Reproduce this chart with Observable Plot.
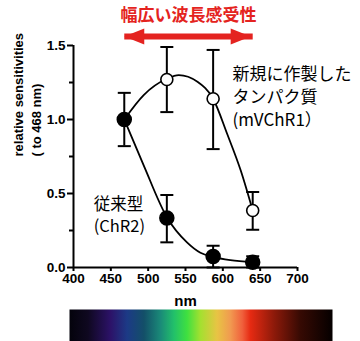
<!DOCTYPE html>
<html>
<head>
<meta charset="utf-8">
<script src="https://cdn.jsdelivr.net/npm/d3@7"></script>
<script src="https://cdn.jsdelivr.net/npm/@observablehq/plot@0.6"></script>
<style>
  html, body { margin: 0; padding: 0; background: #fff; }
  #chart svg { display: block; }
</style>
</head>
<body>
<div id="chart"></div>
<script>
// ---- data ----
const wavelengths = [468, 525, 587, 640];            // ChR2 measured wavelengths (nm)
const chr2Values  = [1.0, 0.335, 0.074, 0.036];
const chr2Low     = [0.82, 0.17, 0.0, 0.0];
const chr2High    = [1.18, 0.49, 0.147, 0.076];

const mvWavelengths = [525, 587, 640];                // mVChR1 (open circles)
const mvValues      = [1.27, 1.14, 0.385];
const mvLow         = [1.05, 0.80, 0.255];
const mvHigh        = [1.49, 1.47, 0.51];

// fitted curves
const chr2FitNm  = [468, 494, 525, 552, 570, 587, 610, 640];
const chr2FitVal = [1.0, 0.69, 0.34, 0.17, 0.10, 0.072, 0.05, 0.036];
const mvFitNm    = [468, 494, 525, 541, 566, 587, 606, 624, 640];
const mvFitVal   = [1.0, 1.165, 1.275, 1.30, 1.255, 1.14, 0.90, 0.655, 0.385];

const xTicks = [400, 450, 500, 550, 600, 650, 700];
const yTicks = [0, 0.5, 1.0, 1.5];
const yMinorTicks = [0.25, 0.75, 1.25];

const topTitle = "幅広い波長感受性";
const arrowSpan = [468, 640];
const mvLabel = ["新規に作製した", "タンパク質", "(mVChR1）"];
const chr2Label = ["従来型", "(ChR2)"];
const yTitle = ["relative sensitivities", "( to 468 nm)"];
const xTitle = "nm";

const spectrumOffsets = [0, 0.07, 0.156, 0.219, 0.283, 0.346, 0.397, 0.447, 0.498, 0.561, 0.612, 0.657, 0.688, 0.777, 0.878, 1];
const spectrumColors  = ["#04030c", "#0f0820", "#2c1268", "#1c3a86", "#134f68", "#1a8a78", "#22c06a", "#3fe040", "#a4e030", "#e8c444", "#f19a50", "#f0603c", "#e62a12", "#8e1a0a", "#360a03", "#050000"];

// ---- tables ----
const chr2 = wavelengths.map((x, i) => ({x, v: chr2Values[i], lo: chr2Low[i], hi: chr2High[i]}));
const mv = mvWavelengths.map((x, i) => ({x, v: mvValues[i], lo: mvLow[i], hi: mvHigh[i]}));
const chr2Fit = chr2FitNm.map((x, i) => ({x, v: chr2FitVal[i]}));
const mvFit = mvFitNm.map((x, i) => ({x, v: mvFitVal[i]}));
const errors = chr2.concat(mv);

const red = "#e42320";
const sans = "Liberation Sans, Arial, sans-serif";
const cjk = "Noto Sans CJK JP, sans-serif";

const capSymbol = {
  draw(ctx, size) {
    const w = Math.sqrt(size / Math.PI);
    ctx.moveTo(-w, 0); ctx.lineTo(w, 0);
  }
};
const headSymbol = {
  draw(ctx, size) {
    const s = Math.sqrt(size / Math.PI);
    ctx.moveTo(s, 0); ctx.lineTo(-s, -0.8 * s); ctx.lineTo(-s, 0.8 * s); ctx.closePath();
  }
};

const arrowY = 1.561;
const chart = Plot.plot({
  width: 360,
  height: 309,
  marginTop: 45,
  marginBottom: 42,
  marginLeft: 73,
  marginRight: 63,
  x: {domain: [400, 700]},
  y: {domain: [0, 1.5]},
  style: {fontFamily: sans, fontSize: "13px", background: "white", color: "black", overflow: "visible"},
  marks: [
    // axes
    Plot.axisY(yTicks, {tickSize: 6, tickPadding: 2, strokeWidth: 2, tickFormat: d3.format(".1f"), fontSize: 13.5, fontWeight: "bold", label: null}),
    Plot.axisY(yMinorTicks, {tickSize: 4, strokeWidth: 2, tickFormat: () => "", label: null}),
    Plot.axisX(xTicks, {tickSize: 4, tickPadding: 2, strokeWidth: 2, fontSize: 13.5, fontWeight: "bold", label: null}),
    Plot.ruleX([400], {y1: 0, y2: 1.5, strokeWidth: 2}),
    Plot.ruleY([0], {x1: 400, x2: 700, strokeWidth: 2}),
    Plot.text([yTitle[0]], {frameAnchor: "left", rotate: -90, dx: -55, fontSize: 13, fontWeight: "bold"}),
    Plot.text([yTitle[1]], {frameAnchor: "left", rotate: -90, dx: -37, fontSize: 13, fontWeight: "bold"}),
    Plot.text([xTitle], {frameAnchor: "bottom", dy: 38, fontSize: 15, fontWeight: "bold"}),
    // top annotation
    Plot.text([topTitle], {x: 554, y: 1.703, fill: red, fontSize: 17, fontWeight: "bold", fontFamily: cjk}),
    Plot.link([arrowSpan], {x1: d => d[0], x2: d => d[1], y1: arrowY, y2: arrowY, stroke: red, strokeWidth: 6}),
    Plot.dot([arrowSpan[1]], {x: d => d, y: arrowY, symbol: headSymbol, r: 10, fill: red, dx: -12}),
    Plot.dot([arrowSpan[0]], {x: d => d, y: arrowY, symbol: headSymbol, r: 10, fill: red, rotate: 180, dx: 10}),
    // error bars
    Plot.ruleX(errors, {x: "x", y1: "lo", y2: "hi", strokeWidth: 2}),
    Plot.dot(errors, {x: "x", y: "lo", symbol: capSymbol, r: 6.5, stroke: "black", strokeWidth: 2, fill: "none"}),
    Plot.dot(errors, {x: "x", y: "hi", symbol: capSymbol, r: 6.5, stroke: "black", strokeWidth: 2, fill: "none"}),
    // fitted curves
    Plot.line(mvFit, {x: "x", y: "v", curve: "monotone-x", strokeWidth: 1.8}),
    Plot.line(chr2Fit, {x: "x", y: "v", curve: "monotone-x", strokeWidth: 1.8}),
    // points
    Plot.dot(mv, {x: "x", y: "v", r: 6, fill: "white", stroke: "black", strokeWidth: 1.6}),
    Plot.dot(chr2, {x: "x", y: "v", r: 7, fill: "black", stroke: "black"}),
    // series labels
    Plot.text([mvLabel.join("\n")], {x: 613, y: 1.318, textAnchor: "start", lineAnchor: "top", dy: -9, lineHeight: 1.35, fontSize: 17, fontFamily: cjk}),
    Plot.text([chr2Label.join("\n")], {x: 427, y: 0.435, textAnchor: "start", lineAnchor: "top", dy: -9, lineHeight: 1.34, fontSize: 16.5, fontFamily: cjk})
  ]
});

const gradientDefs = () => {
  const ns = "http://www.w3.org/2000/svg";
  const defs = document.createElementNS(ns, "defs");
  const lg = document.createElementNS(ns, "linearGradient");
  lg.setAttribute("id", "spectrum");
  lg.setAttribute("x1", "0"); lg.setAttribute("x2", "1");
  lg.setAttribute("y1", "0"); lg.setAttribute("y2", "0");
  spectrumOffsets.forEach((o, i) => {
    const st = document.createElementNS(ns, "stop");
    st.setAttribute("offset", o);
    st.setAttribute("stop-color", spectrumColors[i]);
    lg.appendChild(st);
  });
  defs.appendChild(lg);
  return defs;
};

const spectrum = Plot.plot({
  width: 360,
  height: 32,
  marginTop: 0,
  marginBottom: 0,
  marginLeft: 69,
  marginRight: 28,
  x: {domain: [0, 1], axis: null},
  y: {domain: [0, 1], axis: null},
  style: {background: "white"},
  marks: [gradientDefs, Plot.frame({fill: "url(#spectrum)"})]
});

const root = document.getElementById("chart");
root.appendChild(chart);
root.appendChild(spectrum);
</script>
</body>
</html>
